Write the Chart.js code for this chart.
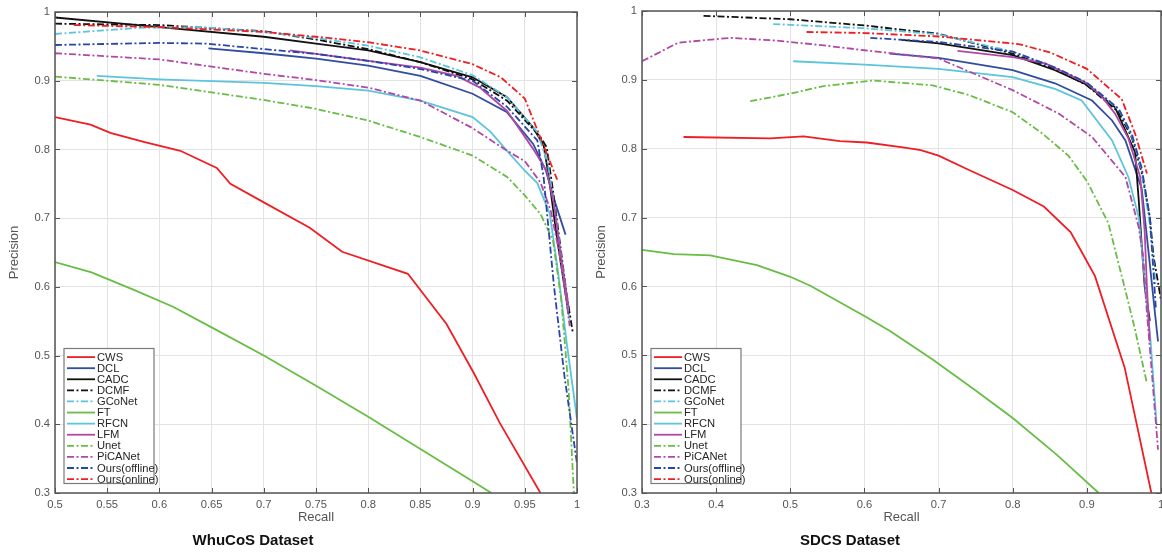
<!DOCTYPE html>
<html>
<head>
<meta charset="utf-8">
<script src="https://cdn.jsdelivr.net/npm/chart.js@4"></script>
<style>
  html, body { margin: 0; padding: 0; background: #fff; }
  #wrap { position: relative; width: 1162px; height: 552px; overflow: hidden; background: #fff; }
  canvas { position: absolute; top: 0; }
  #whu { left: 0; }
  #sdcs { left: 587px; }
</style>
</head>
<body>
<div id="wrap">
  <canvas id="whu" width="587" height="552"></canvas>
  <canvas id="sdcs" width="575" height="552"></canvas>
</div>
<script>
// legend order, colours and line styles
const methods = ['CWS', 'DCL', 'CADC', 'DCMF', 'GCoNet', 'FT', 'RFCN', 'LFM', 'Unet', 'PiCANet', 'Ours(offline)', 'Ours(online)'];
const colors = ['rgb(238,30,36)', 'rgb(49,77,158)', '#111', '#111', 'rgb(92,196,220)', 'rgb(104,189,69)',
                'rgb(92,196,220)', 'rgb(176,72,166)', 'rgb(104,189,69)', 'rgb(176,72,166)', 'rgb(40,70,170)', 'rgb(238,30,36)'];
const dashDot = [false, false, false, true, true, false, false, false, true, true, true, true];

// ---- WhuCoS dataset (recall / precision) ----
const whuCWS_R = [0.5, 0.534, 0.553, 0.585, 0.62, 0.655, 0.668, 0.70, 0.744, 0.775, 0.838, 0.875, 0.901, 0.926, 0.965];
const whuCWS_P = [0.847, 0.836, 0.824, 0.811, 0.798, 0.773, 0.750, 0.723, 0.686, 0.651, 0.619, 0.546, 0.475, 0.402, 0.300];
const whuDCL_R = [0.647, 0.70, 0.75, 0.80, 0.85, 0.90, 0.933, 0.958, 0.97, 0.978, 0.989];
const whuDCL_P = [0.947, 0.940, 0.932, 0.922, 0.907, 0.881, 0.854, 0.808, 0.77, 0.728, 0.676];
const whuCADC_R = [0.5, 0.6, 0.7, 0.75, 0.8, 0.85, 0.9, 0.933, 0.958, 0.968, 0.973, 0.98, 0.986, 0.992];
const whuCADC_P = [0.992, 0.978, 0.964, 0.954, 0.944, 0.927, 0.905, 0.876, 0.832, 0.806, 0.76, 0.68, 0.62, 0.56];
const whuDCMF_R = [0.5, 0.6, 0.7, 0.75, 0.8, 0.85, 0.9, 0.933, 0.965, 0.971, 0.977, 0.984, 0.99, 0.996];
const whuDCMF_P = [0.983, 0.981, 0.972, 0.960, 0.946, 0.927, 0.902, 0.871, 0.818, 0.803, 0.74, 0.66, 0.59, 0.533];
const whuGCoNet_R = [0.5, 0.58, 0.64, 0.7, 0.75, 0.8, 0.85, 0.9, 0.933, 0.962, 0.972, 0.98, 0.987, 0.993];
const whuGCoNet_P = [0.968, 0.977, 0.978, 0.971, 0.962, 0.951, 0.934, 0.908, 0.876, 0.825, 0.78, 0.70, 0.62, 0.55];
const whuFT_R = [0.5, 0.535, 0.575, 0.613, 0.65, 0.70, 0.75, 0.80, 0.85, 0.90, 0.918];
const whuFT_P = [0.636, 0.621, 0.596, 0.571, 0.541, 0.500, 0.456, 0.411, 0.364, 0.317, 0.300];
const whuRFCN_R = [0.54, 0.6, 0.7, 0.75, 0.8, 0.85, 0.9, 0.917, 0.933, 0.95, 0.962, 0.974, 0.982, 0.99, 1.0];
const whuRFCN_P = [0.907, 0.902, 0.897, 0.892, 0.8855, 0.871, 0.847, 0.826, 0.798, 0.769, 0.751, 0.706, 0.62, 0.52, 0.408];
const whuLFM_R = [0.725, 0.8, 0.85, 0.885, 0.907, 0.933, 0.957, 0.971, 0.978, 0.985, 0.992];
const whuLFM_P = [0.944, 0.929, 0.919, 0.907, 0.890, 0.856, 0.803, 0.769, 0.72, 0.64, 0.57];
const whuUnet_R = [0.5, 0.6, 0.7, 0.75, 0.8, 0.85, 0.9, 0.933, 0.95, 0.965, 0.977, 0.985, 0.992, 0.997];
const whuUnet_P = [0.906, 0.894, 0.872, 0.859, 0.842, 0.818, 0.791, 0.760, 0.733, 0.706, 0.668, 0.58, 0.45, 0.30];
const whuPiCANet_R = [0.5, 0.6, 0.7, 0.75, 0.8, 0.85, 0.9, 0.933, 0.95, 0.965, 0.975, 0.983, 0.989, 0.993];
const whuPiCANet_P = [0.94, 0.931, 0.910, 0.901, 0.890, 0.871, 0.831, 0.798, 0.783, 0.752, 0.71, 0.65, 0.59, 0.543];
const whuOffline_R = [0.5, 0.6, 0.645, 0.7, 0.75, 0.8, 0.85, 0.9, 0.933, 0.962, 0.968, 0.973, 0.978, 0.988, 1.0];
const whuOffline_P = [0.952, 0.955, 0.954, 0.946, 0.939, 0.929, 0.917, 0.9, 0.862, 0.813, 0.76, 0.68, 0.6, 0.47, 0.343];
const whuOnline_R = [0.518, 0.6, 0.7, 0.75, 0.8, 0.85, 0.9, 0.927, 0.95, 0.965, 0.981];
const whuOnline_P = [0.981, 0.978, 0.971, 0.964, 0.956, 0.944, 0.924, 0.905, 0.874, 0.817, 0.756];

// ---- SDCS dataset (recall / precision) ----
const sdCWS_R = [0.356, 0.473, 0.518, 0.567, 0.603, 0.652, 0.676, 0.70, 0.741, 0.80, 0.842, 0.878, 0.891, 0.911, 0.951, 0.987];
const sdCWS_P = [0.817, 0.815, 0.818, 0.811, 0.809, 0.802, 0.798, 0.790, 0.769, 0.740, 0.716, 0.679, 0.654, 0.615, 0.482, 0.300];
const sdDCL_R = [0.634, 0.7, 0.8, 0.857, 0.907, 0.934, 0.952, 0.974, 0.983, 0.99, 0.996];
const sdDCL_P = [0.938, 0.932, 0.914, 0.895, 0.87, 0.841, 0.812, 0.742, 0.652, 0.58, 0.52];
const sdCADC_R = [0.65, 0.7, 0.8, 0.857, 0.9, 0.938, 0.965, 0.97, 0.974, 0.978, 0.985];
const sdCADC_P = [0.958, 0.953, 0.936, 0.914, 0.893, 0.86, 0.795, 0.725, 0.66, 0.60, 0.55];
const sdDCMF_R = [0.383, 0.5, 0.6, 0.7, 0.8, 0.857, 0.9, 0.943, 0.961, 0.974, 0.985, 0.99, 0.996, 1.0];
const sdDCMF_P = [0.993, 0.988, 0.979, 0.967, 0.938, 0.916, 0.892, 0.853, 0.815, 0.765, 0.70, 0.643, 0.606, 0.58];
const sdGCoNet_R = [0.477, 0.6, 0.7, 0.8, 0.857, 0.9, 0.943, 0.961, 0.974, 0.985, 0.993];
const sdGCoNet_P = [0.981, 0.975, 0.966, 0.941, 0.918, 0.895, 0.857, 0.818, 0.768, 0.69, 0.60];
const sdFT_R = [0.3, 0.343, 0.392, 0.455, 0.5, 0.527, 0.6, 0.635, 0.692, 0.75, 0.8, 0.86, 0.916];
const sdFT_P = [0.653, 0.647, 0.645, 0.631, 0.614, 0.601, 0.557, 0.535, 0.494, 0.449, 0.409, 0.355, 0.3];
const sdRFCN_R = [0.504, 0.6, 0.7, 0.8, 0.857, 0.893, 0.934, 0.956, 0.97, 0.979, 0.986, 0.994];
const sdRFCN_P = [0.927, 0.922, 0.916, 0.904, 0.887, 0.87, 0.812, 0.759, 0.70, 0.60, 0.52, 0.40];
const sdLFM_R = [0.7255, 0.8, 0.844, 0.9, 0.92, 0.938, 0.956, 0.972, 0.978, 0.981, 0.985];
const sdLFM_P = [0.942, 0.933, 0.924, 0.895, 0.876, 0.851, 0.815, 0.759, 0.68, 0.60, 0.52];
const sdUnet_R = [0.446, 0.5, 0.545, 0.612, 0.692, 0.741, 0.8, 0.84, 0.875, 0.9, 0.929, 0.952, 0.965, 0.9805];
const sdUnet_P = [0.869, 0.880, 0.891, 0.899, 0.892, 0.878, 0.853, 0.822, 0.790, 0.753, 0.692, 0.594, 0.537, 0.462];
const sdPiCANet_R = [0.3, 0.349, 0.419, 0.482, 0.545, 0.6, 0.7, 0.8, 0.862, 0.907, 0.952, 0.97, 0.976, 0.98, 0.988, 0.996];
const sdPiCANet_P = [0.927, 0.954, 0.961, 0.957, 0.950, 0.943, 0.931, 0.885, 0.851, 0.817, 0.759, 0.686, 0.643, 0.576, 0.47, 0.363];
const sdOffline_R = [0.608, 0.7, 0.8, 0.857, 0.9, 0.943, 0.961, 0.974, 0.985, 0.993];
const sdOffline_P = [0.961, 0.955, 0.941, 0.918, 0.896, 0.858, 0.82, 0.772, 0.70, 0.569];
const sdOnline_R = [0.522, 0.6, 0.7, 0.808, 0.85, 0.9, 0.947, 0.965, 0.981];
const sdOnline_P = [0.9695, 0.968, 0.963, 0.952, 0.94, 0.916, 0.872, 0.822, 0.764];

const whuCurves = [
  [whuCWS_R, whuCWS_P], [whuDCL_R, whuDCL_P], [whuCADC_R, whuCADC_P], [whuDCMF_R, whuDCMF_P],
  [whuGCoNet_R, whuGCoNet_P], [whuFT_R, whuFT_P], [whuRFCN_R, whuRFCN_P], [whuLFM_R, whuLFM_P],
  [whuUnet_R, whuUnet_P], [whuPiCANet_R, whuPiCANet_P], [whuOffline_R, whuOffline_P], [whuOnline_R, whuOnline_P]
];
const sdCurves = [
  [sdCWS_R, sdCWS_P], [sdDCL_R, sdDCL_P], [sdCADC_R, sdCADC_P], [sdDCMF_R, sdDCMF_P],
  [sdGCoNet_R, sdGCoNet_P], [sdFT_R, sdFT_P], [sdRFCN_R, sdRFCN_P], [sdLFM_R, sdLFM_P],
  [sdUnet_R, sdUnet_P], [sdPiCANet_R, sdPiCANet_P], [sdOffline_R, sdOffline_P], [sdOnline_R, sdOnline_P]
];

const FONT = "'Liberation Sans', Arial, Helvetica, sans-serif";
const DASH = [7, 2.5, 2, 2.5];
const AXIS_COLOR = '#555';

Chart.defaults.font.family = FONT;

function buildDatasets(curves) {
  return curves.map((c, i) => ({
    label: methods[i],
    data: c[0].map((r, k) => ({ x: r, y: c[1][k] })),
    borderColor: colors[i],
    borderWidth: 1.8,
    borderDash: dashDot[i] ? DASH : [],
    pointRadius: 0,
    tension: 0,
    fill: false,
    order: methods.length - i
  }));
}

// box, inward ticks, legend and the dataset caption
const framePlugin = {
  id: 'frame',
  afterDraw(chart, args, opts) {
    const { ctx, chartArea: a, scales: { x, y } } = chart;
    ctx.save();
    ctx.strokeStyle = AXIS_COLOR;
    ctx.lineWidth = 1;
    ctx.beginPath();
    x.ticks.forEach(t => {
      const px = Math.round(x.getPixelForValue(t.value)) + 0.5;
      ctx.moveTo(px, a.bottom); ctx.lineTo(px, a.bottom - 5);
      ctx.moveTo(px, a.top); ctx.lineTo(px, a.top + 5);
    });
    y.ticks.forEach(t => {
      const py = Math.round(y.getPixelForValue(t.value)) + 0.5;
      ctx.moveTo(a.left, py); ctx.lineTo(a.left + 5, py);
      ctx.moveTo(a.right, py); ctx.lineTo(a.right - 5, py);
    });
    ctx.stroke();
    ctx.lineWidth = 1.5;
    ctx.strokeRect(a.left, a.top, a.right - a.left, a.bottom - a.top);

    // legend box
    const bx = a.left + 9, bw = 90, bh = 135, by = a.bottom - 9.5 - bh;
    ctx.fillStyle = '#fff';
    ctx.fillRect(bx, by, bw, bh);
    ctx.strokeStyle = '#7a7a7a';
    ctx.lineWidth = 1.2;
    ctx.strokeRect(bx, by, bw, bh);
    ctx.font = '11.2px ' + FONT;
    ctx.textBaseline = 'middle';
    ctx.textAlign = 'left';
    chart.data.datasets.forEach((ds, i) => {
      const yy = by + 8.6 + i * 11.09;
      ctx.strokeStyle = ds.borderColor;
      ctx.lineWidth = 1.8;
      ctx.setLineDash(ds.borderDash);
      ctx.beginPath();
      ctx.moveTo(bx + 3, yy); ctx.lineTo(bx + 31, yy);
      ctx.stroke();
      ctx.setLineDash([]);
      ctx.fillStyle = '#262626';
      ctx.fillText(ds.label, bx + 33, yy + 0.5);
    });

    // caption under the plot
    ctx.font = 'bold 15px ' + FONT;
    ctx.textAlign = 'center';
    ctx.fillStyle = '#111';
    ctx.fillText(opts.text, opts.x, 541);
    ctx.restore();
  }
};

const fmt = v => String(+Number(v).toFixed(2));

function makeChart(id, curves, xMin, xStep, caption, captionX, padRight, padTop) {
  return new Chart(document.getElementById(id), {
    type: 'line',
    data: { datasets: buildDatasets(curves) },
    options: {
      responsive: false,
      animation: false,
      events: [],
      layout: { padding: { left: 0, right: padRight, top: padTop, bottom: 0 } },
      plugins: {
        legend: { display: false },
        tooltip: { enabled: false },
        frame: { text: caption, x: captionX }
      },
      scales: {
        x: {
          type: 'linear',
          min: xMin,
          max: 1,
          afterFit: s => { s.height = 552 - 493; s.paddingLeft = 0; s.paddingRight = 0; },
          ticks: { stepSize: xStep, callback: fmt, color: AXIS_COLOR, font: { size: 11.2 }, padding: 5, maxRotation: 0, autoSkip: false },
          grid: { color: '#e3e3e3', lineWidth: 1, drawTicks: false },
          border: { display: false },
          title: { display: true, text: 'Recall', color: AXIS_COLOR, font: { size: 13 }, padding: { top: 0, bottom: 27 } }
        },
        y: {
          type: 'linear',
          min: 0.3,
          max: 1,
          afterFit: s => { s.width = 55; s.paddingTop = 0; s.paddingBottom = 0; },
          ticks: { stepSize: 0.1, callback: fmt, color: AXIS_COLOR, font: { size: 11.2 }, padding: 5 },
          grid: { color: '#e3e3e3', lineWidth: 1, drawTicks: false },
          border: { display: false },
          title: { display: true, text: 'Precision', color: AXIS_COLOR, font: { size: 13 }, padding: { top: 7, bottom: 0 } }
        }
      }
    },
    plugins: [framePlugin]
  });
}

makeChart('whu', whuCurves, 0.5, 0.05, 'WhuCoS Dataset', 253, 10, 12);
makeChart('sdcs', sdCurves, 0.3, 0.1, 'SDCS Dataset', 263, 1, 11);
</script>
</body>
</html>
